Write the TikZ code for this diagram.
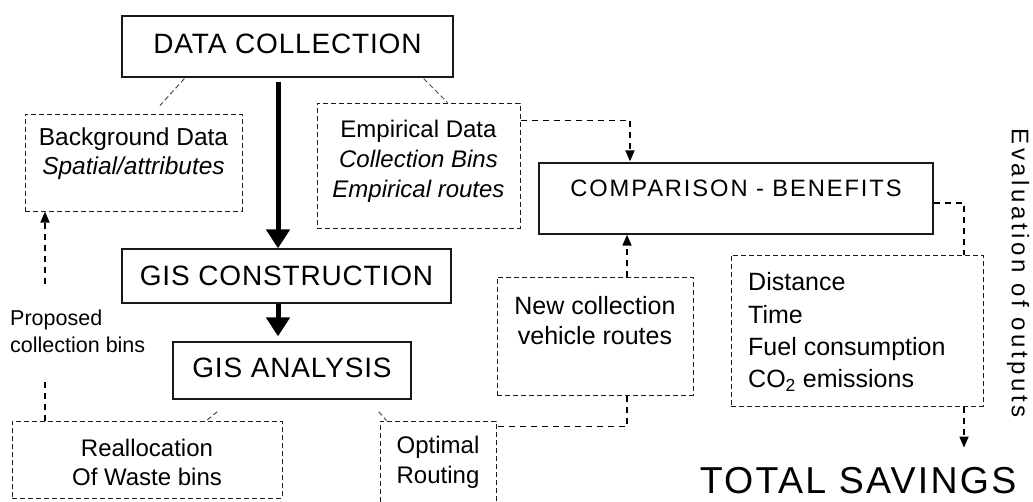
\documentclass[tikz,border=0pt]{standalone}
\usepackage{fontspec}
\setmainfont{Liberation Sans}
\usetikzlibrary{arrows.meta,calc}
\newcommand\lsp[2]{{\addfontfeature{LetterSpace=#1}#2}}
\begin{document}
\begin{tikzpicture}[x=1pt,y=-1pt,
  solidbox/.style={draw=black!90, line width=1.3pt, inner sep=0pt},
  dbox/.style={draw=black!90, line width=1pt, dash pattern=on 5pt off 3pt, inner sep=0pt},
  conn/.style={draw=black, line width=1.7pt, dash pattern=on 6pt off 5pt},
  guide/.style={draw=black!70, line width=1pt, dash pattern=on 5pt off 3pt},
  bigarrow/.style={draw=black, line width=5pt, -{Triangle[width=23pt,length=19pt]}},
  dtip/.style={-{Triangle[width=9pt,length=11pt]}},
  body/.style={font=\fontsize{24.5}{29}\selectfont, align=center, inner sep=0pt},
  title/.style={font=\fontsize{28}{32}\selectfont, inner sep=0pt}
]
\clip (0,0) rectangle (1033,501);
% columns
\coordinate (ax) at (278,0);
\coordinate (px) at (45,0);
\coordinate (cx) at (630,0);
\coordinate (nx) at (627,0);
\coordinate (dx) at (964,0);
% boxes
\node[solidbox, minimum width=331pt, minimum height=61pt] (dc) at (287.5,46.5) {};
\node[dbox, minimum width=217pt, minimum height=97pt] (bg) at (133.5,162.5) {};
\node[dbox, minimum width=203pt, minimum height=125pt] (emp) at (418.5,165.5) {};
\node[solidbox, minimum width=394pt, minimum height=71pt] (comp) at (736,198.5) {};
\node[solidbox, minimum width=329pt, minimum height=54pt] (gisc) at (286.5,276) {};
\node[solidbox, minimum width=238pt, minimum height=57pt] (gisa) at (292,370.5) {};
\node[dbox, minimum width=196pt, minimum height=118pt] (newc) at (595,336) {};
\node[dbox, minimum width=252pt, minimum height=151pt] (dist) at (857,330.5) {};
\node[dbox, minimum width=270pt, minimum height=77pt] (realloc) at (147,459.5) {};
\node[dbox, minimum width=116pt, minimum height=100pt] (opt) at (438,471) {};
% texts
\node[title] (dct) at (287.5,44) {\lsp{3}{DATA COLLECTION}};
\node[body] (bgt) at (133.5,154) {Background Data\\\textit{Spatial/attributes}};
\node[body, font=\fontsize{24}{30}\selectfont] (empt) at (418.5,161) {Empirical Data\\\textit{Collection Bins}\\\textit{Empirical routes}};
\node[inner sep=0pt, font=\fontsize{23.7}{28}\selectfont] (compt) at (736,188) {\lsp{8}{COMPARISON - BENEFITS}};
\node[title] (gisct) at (286.5,276) {\lsp{3}{GIS CONSTRUCTION}};
\node[title] (gisat) at (292,368) {\lsp{3}{GIS ANALYSIS}};
\node[body, font=\fontsize{25}{30}\selectfont] (newct) at (595,321) {New collection\\vehicle routes};
\node[body, font=\fontsize{25}{32.3}\selectfont, align=left, anchor=west] (distt) at (748,332) {Distance\\Time\\Fuel consumption\\CO\textsubscript{2} emissions};
\node[body, font=\fontsize{24}{29}\selectfont] (reallt) at (147,462) {Reallocation\\Of Waste bins};
\node[body, font=\fontsize{24}{30}\selectfont] (optt) at (438,462) {Optimal\\Routing};
\node[font=\fontsize{21.5}{27}\selectfont, align=left, anchor=west, inner xsep=0pt, minimum height=93pt] (prop) at (10,331) {Proposed\\collection bins};
\node[font=\fontsize{37.5}{40}\selectfont, inner xsep=0pt, inner ysep=19pt, anchor=base] (ts) at (858,493) {\lsp{6}{TOTAL SAVINGS}};
\node[font=\fontsize{24}{28}\selectfont, inner sep=0pt, rotate=-90] (eval) at (1018,273) {\lsp{15}{Evaluation of outputs}};
% thick arrows
\draw[bigarrow] ([yshift=-4pt]dc.south -| ax) -- (gisc.north -| ax);
\draw[bigarrow] (gisc.south -| ax) -- ([yshift=5pt]gisa.north -| ax);
% guide lines
\draw[guide] ($(dc.south west)+(63,1)$) -- ($(bg.north)+(26.5,-8)$);
\draw[guide] ($(dc.south east)+(-30,1)$) -- ($(emp.north)+(29,0)$);
\draw[guide] ($(gisa.south west)+(45,12)$) -- ($(realloc.north east)+(-76,0)$);
\draw[guide] ($(gisa.south east)+(-33,12)$) -- ($(opt.north west)+(7,0)$);
% dashed connectors
\draw[conn] (realloc.north -| px) -- (prop.south -| px);
\draw[conn, dtip] (prop.north -| px) -- (bg.south -| px);
\draw[conn, dtip] ([yshift=-18pt]emp.north east) -| ([yshift=1pt]comp.north -| cx);
\draw[conn] ([yshift=-4.5pt]comp.east) -| (dist.north -| dx);
\draw[conn, dtip] (dist.south -| dx) -- (ts.north -| dx);
\draw[conn, dtip] (newc.north -| nx) -- (comp.south -| nx);
\draw[conn] (newc.south -| nx) |- ([yshift=-6pt]opt.north east);
\end{tikzpicture}
\end{document}
